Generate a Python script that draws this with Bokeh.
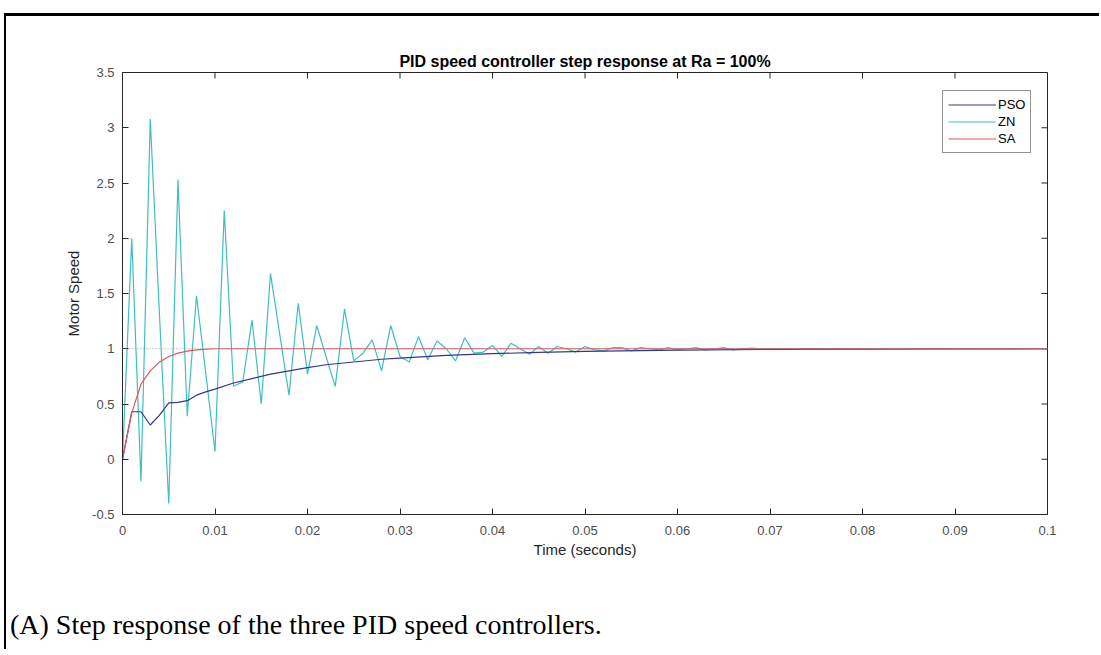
from bokeh.plotting import figure
from bokeh.layouts import column
from bokeh.models import (FixedTicker, Span, Legend, LegendItem, Range1d, Div)
from bokeh.embed import file_html
from bokeh.resources import INLINE

# ---------------- data ----------------
title_text = "PID speed controller step response at Ra = 100%"
x_label = "Time (seconds)"
y_label = "Motor Speed"
caption = "(A) Step response of the three PID speed controllers."

x_ticks = [0, 0.01, 0.02, 0.03, 0.04, 0.05, 0.06, 0.07, 0.08, 0.09, 0.1]
x_tick_labels = ["0", "0.01", "0.02", "0.03", "0.04", "0.05", "0.06", "0.07", "0.08", "0.09", "0.1"]
y_ticks = [-0.5, 0, 0.5, 1, 1.5, 2, 2.5, 3, 3.5]
y_tick_labels = ["-0.5", "0", "0.5", "1", "1.5", "2", "2.5", "3", "3.5"]
steady_state = 1.0

zn_t = [round(i * 0.001, 3) for i in range(71)] + [0.08, 0.09, 0.1]
zn_y = [0.00, 2.00, -0.20, 3.08, 1.30, -0.40, 2.53, 0.39, 1.48, 0.78,
        0.07, 2.25, 0.66, 0.70, 1.26, 0.50, 1.68, 1.13, 0.58, 1.41,
        0.77, 1.21, 0.93, 0.66, 1.36, 0.89, 0.96, 1.08, 0.80, 1.21,
        0.93, 0.88, 1.11, 0.90, 1.07, 1.00, 0.89, 1.10, 0.96, 0.97,
        1.03, 0.93, 1.05, 1.00, 0.95, 1.02, 0.96, 1.02, 1.00, 0.97,
        1.02, 0.99, 0.98, 1.01, 1.01, 0.98, 1.01, 1.00, 0.99, 1.01,
        0.99, 1.00, 1.01, 0.99, 1.00, 1.01, 0.99, 1.00, 1.005, 1.00,
        1.00, 1.00, 1.00, 1.00]

pso_t = [0, 0.001, 0.002, 0.003, 0.004, 0.005, 0.006, 0.007, 0.008, 0.009,
         0.010, 0.012, 0.014, 0.016, 0.018, 0.020, 0.022, 0.025, 0.028, 0.030,
         0.035, 0.040, 0.045, 0.050, 0.060, 0.070, 0.080, 0.090, 0.100]
pso_y = [0.00, 0.43, 0.43, 0.31, 0.40, 0.51, 0.515, 0.53, 0.58, 0.61,
         0.635, 0.69, 0.73, 0.77, 0.80, 0.83, 0.855, 0.88, 0.905, 0.915,
         0.94, 0.955, 0.968, 0.977, 0.988, 0.994, 0.997, 0.999, 1.00]

sa_t = [0, 0.001, 0.002, 0.003, 0.004, 0.005, 0.006, 0.007, 0.008, 0.009, 0.010, 0.1]
sa_y = [0.00, 0.42, 0.68, 0.80, 0.88, 0.93, 0.96, 0.978, 0.99, 0.996, 1.00, 1.00]

# ---------------- layout ----------------
PAGE_W, PAGE_H = 1101, 655
OFF_X, OFF_Y = 6, 16           # space taken by page frame lines (left / top)
W = PAGE_W - OFF_X - 2
H = 575 - OFF_Y                # plot canvas height (caption Div goes below)
FL, FR, FT, FB = 122 - OFF_X, 1047 - OFF_X, 72 - OFF_Y, 514 - OFF_Y
SANS = "Liberation Sans"
AX_COL = "#262626"
TICK_COL = "#4d4d4d"
X0, X1 = x_ticks[0], x_ticks[-1]
Y0, Y1 = y_ticks[0], y_ticks[-1]

p = figure(width=W, height=H, output_backend="svg", toolbar_location=None,
           x_range=Range1d(X0, X1), y_range=Range1d(Y0, Y1),
           min_border_left=FL, min_border_right=W - FR,
           min_border_top=FT, min_border_bottom=H - FB,
           x_axis_label=x_label, y_axis_label=y_label)
p.xgrid.visible = False
p.ygrid.visible = False
p.outline_line_color = AX_COL
p.outline_line_width = 1

p.title.text = title_text
p.title.align = "center"
p.title.text_font = SANS
p.title.text_font_size = "16px"
p.title.text_font_style = "bold"
p.title.text_color = "#000000"
p.title.standoff = 6

for ax in (p.xaxis[0], p.yaxis[0]):
    ax.major_tick_in = 6
    ax.major_tick_out = 0
    ax.minor_tick_line_color = None
    ax.axis_line_color = AX_COL
    ax.major_tick_line_color = AX_COL
    ax.major_label_text_font = SANS
    ax.major_label_text_font_size = "13px"
    ax.major_label_text_color = TICK_COL
    ax.axis_label_text_font = SANS
    ax.axis_label_text_font_size = "15px"
    ax.axis_label_text_font_style = "normal"
    ax.axis_label_text_color = AX_COL

p.xaxis[0].ticker = FixedTicker(ticks=x_ticks)
p.xaxis[0].major_label_overrides = dict(zip(x_ticks, x_tick_labels))
p.xaxis[0].major_label_standoff = 11
p.xaxis[0].axis_label_standoff = 3
p.yaxis[0].ticker = FixedTicker(ticks=y_ticks)
p.yaxis[0].major_label_overrides = dict(zip(y_ticks, y_tick_labels))
p.yaxis[0].major_label_standoff = 8
p.yaxis[0].axis_label_standoff = 7

# inward ticks on the top and right edges of the box (MATLAB "box on")
tick_dx = (X1 - X0) * 6 / (FR - FL)
tick_dy = (Y1 - Y0) * 6 / (FB - FT)
p.segment(x0=x_ticks, y0=[Y1] * len(x_ticks), x1=x_ticks, y1=[Y1 - tick_dy] * len(x_ticks),
          line_color=AX_COL, line_width=1)
p.segment(x0=[X1] * len(y_ticks), y0=y_ticks, x1=[X1 - tick_dx] * len(y_ticks), y1=y_ticks,
          line_color=AX_COL, line_width=1)

p.add_layout(Span(location=steady_state, dimension="width", line_color="#9a9a9a",
                  line_dash="1 2", line_width=1))

r_zn = p.line(zn_t, zn_y, line_color="#3fbfbf", line_width=1.2)
r_pso = p.line(pso_t, pso_y, line_color="#36368f", line_width=1.2)
r_sa = p.line(sa_t, sa_y, line_color="#e0585a", line_width=1.2)

legend = Legend(items=[LegendItem(label="PSO", renderers=[r_pso]),
                       LegendItem(label="ZN", renderers=[r_zn]),
                       LegendItem(label="SA", renderers=[r_sa])],
                location=(942 - 122, 514 - 153))
legend.label_text_font = SANS
legend.label_text_font_size = "13px"
legend.label_text_color = "#000000"
legend.glyph_width = 48
legend.glyph_height = 17
legend.label_height = 17
legend.label_standoff = 2
legend.spacing = 0
legend.padding = 5
legend.margin = 0
legend.border_line_color = AX_COL
legend.border_line_width = 1
legend.background_fill_alpha = 1
p.add_layout(legend, "center")

cap = Div(text=caption, width=W - 10, height=40, margin=(34, 0, 0, 4),
          styles={"font-family": "'Liberation Serif'", "font-size": "28px",
                  "color": "#000000", "line-height": "32px", "white-space": "nowrap"})

page = column(p, cap, spacing=0,
              styles={"border-top": "3px solid #000000",
                      "border-left": "2px solid #000000",
                      "margin-left": "4px", "margin-top": "13px"})

open("out.html", "w").write(file_html(page, INLINE))
